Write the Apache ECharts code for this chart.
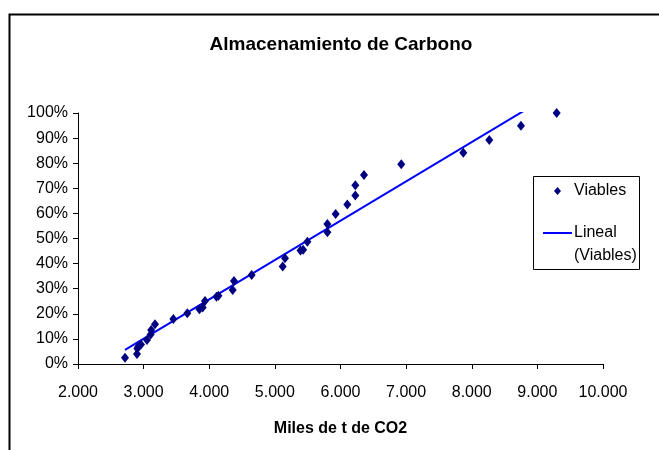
<!DOCTYPE html>
<html>
<head>
<meta charset="utf-8">
<script src="https://cdn.jsdelivr.net/npm/echarts@6/dist/echarts.min.js"></script>
<style>html,body{margin:0;padding:0;background:#fff}#c{width:659px;height:450px}</style>
</head>
<body>
<div id="c"></div>
<script>
const titleText = 'Almacenamiento de Carbono';
const xAxisName = 'Miles de t de CO2';
const seriesNames = ['Viables', 'Lineal (Viables)'];
const viablesX = [2716, 2899, 2905, 2920, 2960, 3051, 3107, 3115, 3173, 3453, 3666, 3850, 3900, 3935, 4110, 4140, 4357, 4377, 4646, 5119, 5154, 5390, 5430, 5495, 5800, 5800, 5926, 6104, 6226, 6226, 6358, 6926, 7871, 8267, 8750, 9294];
const viablesY = [0.025, 0.040, 0.062, 0.070, 0.078, 0.096, 0.118, 0.135, 0.158, 0.179, 0.202, 0.218, 0.225, 0.251, 0.268, 0.272, 0.295, 0.331, 0.355, 0.388, 0.421, 0.452, 0.455, 0.487, 0.525, 0.558, 0.598, 0.635, 0.671, 0.712, 0.753, 0.796, 0.842, 0.892, 0.949, 1.0];
const trendX = [2716, 9294];
const trendY = [0.056, 1.087];

const font = '"Liberation Sans", Arial, sans-serif';
const chart = echarts.init(document.getElementById('c'), null, {renderer: 'canvas'});
function fmtThousands(v) {
  const k = Math.floor(v / 1000), r = Math.round(v % 1000);
  return k + '.' + String(r).padStart(3, '0');
}
chart.setOption({
  backgroundColor: '#fff',
  animation: false,
  title: {
    text: titleText, left: 336, top: 30, textAlign: 'center',
    textStyle: {fontFamily: font, fontSize: 19, fontWeight: 'bold', color: '#000'}
  },
  graphic: [
    {type: 'rect', left: 7, top: 12, shape: {width: 700, height: 500}, style: {fill: 'none', stroke: '#000', lineWidth: 2}, z: 100},
    {type: 'rect', left: 533, top: 176, shape: {width: 106, height: 93}, style: {fill: '#fff', stroke: '#000', lineWidth: 1}, z: 1}
  ],
  legend: {
    left: 543, top: 179.5, orient: 'vertical', itemGap: -4, padding: 0, z: 5,
    itemWidth: 29, itemHeight: 14,
    data: [
      {name: seriesNames[0], icon: 'path://M0,0 M29,14 M14.5,3 L18,7 L14.5,11 L11,7 Z', itemStyle: {color: '#000080', opacity: 1}},
      {name: seriesNames[1], icon: 'path://M0,6 L29,6 L29,8 L0,8 Z', itemStyle: {color: '#0000FF', opacity: 1}}
    ],
    formatter: function (n) { return n === seriesNames[1] ? '{a| }\n{a|Lineal}\n{a|(Viables)}' : '{a|' + n + '}'; },
    textStyle: {fontFamily: font, fontSize: 16, color: '#000', lineHeight: 23,
      rich: {
        a: {fontFamily: font, fontSize: 16, color: '#000', lineHeight: 23, padding: [0, 0, 0, -3]}
      }
    }
  },
  grid: {left: 78, right: 56, top: 113, bottom: 86},
  xAxis: {
    type: 'value', min: 2000, max: 10000, interval: 1000,
    name: xAxisName, nameLocation: 'middle', nameGap: 57,
    nameTextStyle: {fontFamily: font, fontSize: 16, fontWeight: 'bold', color: '#000'},
    axisLine: {show: true, lineStyle: {color: '#000', width: 1}},
    axisTick: {show: true, length: 5, lineStyle: {color: '#000'}},
    axisLabel: {margin: 21, fontFamily: font, fontSize: 16, color: '#000', formatter: fmtThousands},
    splitLine: {show: false}
  },
  yAxis: {
    type: 'value', min: 0, max: 1, interval: 0.1,
    axisLine: {show: true, lineStyle: {color: '#000', width: 1}},
    axisTick: {show: true, length: 5, lineStyle: {color: '#000'}},
    axisLabel: {margin: 10, fontFamily: font, fontSize: 16, color: '#000', formatter: function (v) { return Math.round(v * 100) + '%'; }},
    splitLine: {show: false}
  },
  series: [
    {
      name: seriesNames[0], type: 'scatter', symbol: 'diamond', symbolSize: [8, 10],
      itemStyle: {color: '#000080', opacity: 1}, z: 3,
      data: viablesX.map((x, i) => [x, viablesY[i]])
    },
    {
      name: seriesNames[1], type: 'line', symbol: 'none', clip: true,
      lineStyle: {color: '#0000FF', width: 2}, itemStyle: {color: '#0000FF'}, z: 2,
      data: trendX.map((x, i) => [x, trendY[i]])
    }
  ]
});
</script>
</body>
</html>
